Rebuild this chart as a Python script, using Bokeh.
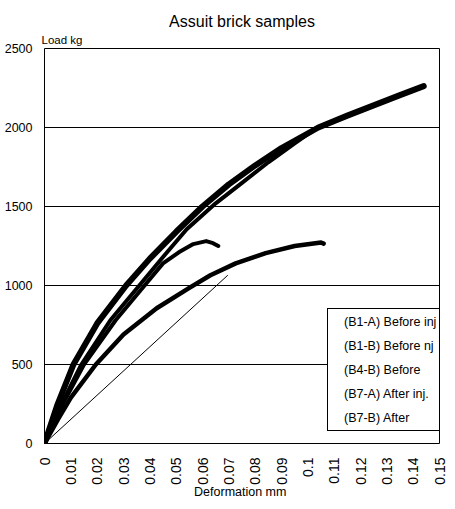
import math
from bokeh.plotting import figure
from bokeh.models import FixedTicker, Legend, LegendItem, Range1d, Title
from bokeh.embed import file_html
from bokeh.resources import INLINE

# ---- data ----
series_names = ["(B1-A) Before inj", "(B1-B) Before nj", "(B4-B) Before",
                "(B7-A) After inj.", "(B7-B) After"]

b1a_x = [0, 0.005, 0.011, 0.02, 0.031, 0.04, 0.05, 0.06, 0.07, 0.08, 0.09,
         0.104, 0.115, 0.125, 0.135, 0.144]
b1a_y = [0, 250, 500, 760, 1000, 1170, 1340, 1500, 1640, 1760, 1870,
         2000, 2075, 2140, 2205, 2262]

b1b_x = [0, 0.005, 0.014, 0.025, 0.036, 0.045, 0.054, 0.065, 0.075, 0.085,
         0.095, 0.1035]
b1b_y = [0, 200, 500, 780, 1000, 1180, 1356, 1520, 1650, 1780, 1900, 2000]

b4b_x = [0, 0.005, 0.015, 0.027, 0.038, 0.045, 0.051, 0.0565, 0.0614, 0.064,
         0.066]
b4b_y = [0, 190, 500, 780, 1000, 1140, 1210, 1262, 1281, 1268, 1250]

b7a_x = [0, 0.005, 0.010, 0.0195, 0.03, 0.0426, 0.055, 0.063, 0.0726,
         0.084, 0.095, 0.105, 0.106]
b7a_y = [0, 150, 290, 500, 690, 856, 985, 1065, 1140, 1205, 1250, 1272, 1265]

b7b_x = [0, 0.0696]
b7b_y = [0, 1065]

x_ticks = [0, 0.01, 0.02, 0.03, 0.04, 0.05, 0.06, 0.07, 0.08, 0.09, 0.1,
           0.11, 0.12, 0.13, 0.14, 0.15]
x_tick_labels = ["0", "0.01", "0.02", "0.03", "0.04", "0.05", "0.06", "0.07",
                 "0.08", "0.09", "0.1", "0.11", "0.12", "0.13", "0.14", "0.15"]
y_ticks = [0, 500, 1000, 1500, 2000, 2500]
y_tick_labels = ["0", "500", "1000", "1500", "2000", "2500"]

FONT = "Liberation Sans"

p = figure(width=447, height=501, output_backend="svg", toolbar_location=None,
           x_range=Range1d(0, 0.15), y_range=Range1d(0, 2500),
           min_border_left=44, min_border_right=8, min_border_top=48,
           min_border_bottom=3, title=None)

# titles: the first added sits closest to the frame
p.add_layout(Title(text="Load  kg", align="left", offset=-3, standoff=5,
                   text_font=FONT, text_font_size="11.5px",
                   text_font_style="normal", text_color="black"), "above")
p.add_layout(Title(text="Assuit brick samples", align="center", standoff=0,
                   text_font=FONT, text_font_size="16px",
                   text_font_style="normal", text_color="black"), "above")

p.outline_line_color = "black"
p.outline_line_width = 1
p.outline_line_alpha = 1
p.background_fill_color = "white"
p.border_fill_color = "white"

# axes
p.xaxis.ticker = FixedTicker(ticks=x_ticks)
p.xaxis.major_label_overrides = {t: l for t, l in zip(x_ticks, x_tick_labels)}
p.xaxis.major_label_orientation = math.pi / 2
p.xaxis.major_label_text_font = FONT
p.xaxis.major_label_text_font_size = "14px"
p.xaxis.major_label_text_color = "black"
p.xaxis.major_label_standoff = 8
p.xaxis.axis_label = "Deformation  mm"
p.xaxis.axis_label_text_font = FONT
p.xaxis.axis_label_text_font_size = "12.5px"
p.xaxis.axis_label_text_font_style = "normal"
p.xaxis.axis_label_text_color = "black"
p.xaxis.axis_label_standoff = -3

p.yaxis.ticker = FixedTicker(ticks=y_ticks)
p.yaxis.major_label_overrides = {t: l for t, l in zip(y_ticks, y_tick_labels)}
p.yaxis.major_label_text_font = FONT
p.yaxis.major_label_text_font_size = "12.5px"
p.yaxis.major_label_text_color = "black"
p.yaxis.major_label_standoff = 6

for ax in (p.xaxis, p.yaxis):
    ax.axis_line_color = None
    ax.major_tick_line_color = None
    ax.minor_tick_line_color = None

p.xgrid.visible = False
p.ygrid.ticker = FixedTicker(ticks=y_ticks)
p.ygrid.grid_line_color = "black"
p.ygrid.grid_line_width = 1
p.ygrid.grid_line_alpha = 1

# curves
p.line(b7b_x, b7b_y, line_color="black", line_width=1)
p.line(b7a_x, b7a_y, line_color="black", line_width=4.5, line_join="round", line_cap="round")
p.line(b4b_x, b4b_y, line_color="black", line_width=4, line_join="round", line_cap="round")
p.line(b1b_x, b1b_y, line_color="black", line_width=4, line_join="round", line_cap="round")
p.line(b1a_x, b1a_y, line_color="black", line_width=6, line_join="round", line_cap="round")

# legend (text only, no glyphs shown)
items = []
for name in series_names:
    r = p.line(x=[], y=[], line_alpha=0)
    items.append(LegendItem(label=name, renderers=[r]))
legend = Legend(items=items, location=(283, 12),
                border_line_color="black", border_line_width=1, border_line_alpha=1,
                background_fill_color="white", background_fill_alpha=1,
                label_text_font=FONT, label_text_font_size="12.5px",
                label_text_color="black",
                glyph_width=10, glyph_height=19, label_height=19,
                spacing=5, padding=3, label_standoff=3, margin=0)
p.add_layout(legend, "center")

open("out.html", "w").write(file_html(p, INLINE))
